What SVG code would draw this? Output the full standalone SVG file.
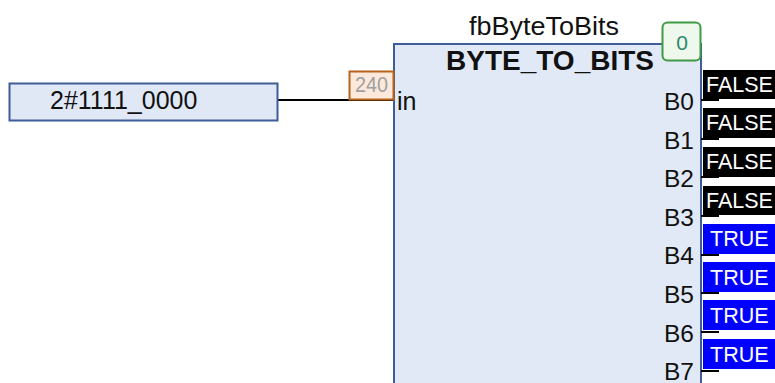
<svg xmlns="http://www.w3.org/2000/svg" width="775" height="383" viewBox="0 0 775 383">
<style>
text{font-family:"Liberation Sans",Arial,sans-serif;}
.lbl{font-size:25px;fill:#111;}
.pin{font-size:24.5px;fill:#111;text-anchor:end;}
.ob{fill:#000;}
.tb{fill:#0000ff;}
.ot{font-size:21.5px;fill:#fff;}
.pl{stroke:#000;stroke-width:2;}
</style>
<rect width="775" height="383" fill="#fff"/>
<g id="connectors">
<line x1="278" y1="100" x2="394" y2="100" stroke="#000" stroke-width="2"/>
</g>
<g id="input">
<rect x="9.5" y="83.5" width="268" height="37" fill="#e0e8f6" stroke="#3e5c96" stroke-width="2"/>
<text x="50" y="109" font-size="25" fill="#111">2#1111_0000</text>
</g>
<g id="block">
<rect x="394" y="44" width="307" height="345" fill="#e1e9f6" stroke="#3e5c96" stroke-width="2"/>
<text x="544" y="35" text-anchor="middle" class="lbl" textLength="150" lengthAdjust="spacingAndGlyphs">fbByteToBits</text>
<text x="550" y="70" text-anchor="middle" font-size="28" font-weight="bold" fill="#111">BYTE_TO_BITS</text>
<text x="397" y="110" class="lbl">in</text>
<text x="694" y="110" class="pin">B0</text>
<text x="694" y="148.6" class="pin">B1</text>
<text x="694" y="187.2" class="pin">B2</text>
<text x="694" y="225.8" class="pin">B3</text>
<text x="694" y="264.4" class="pin">B4</text>
<text x="694" y="303" class="pin">B5</text>
<text x="694" y="341.6" class="pin">B6</text>
<text x="694" y="379.5" class="pin">B7</text>
</g>
<g id="inval">
<rect x="349.5" y="71.5" width="44" height="28" fill="#fde9dc" stroke="#b8621b" stroke-width="2"/>
<text x="371.5" y="92" text-anchor="middle" font-size="22" fill="#a0a0a0" textLength="33" lengthAdjust="spacingAndGlyphs">240</text>
</g>
<g id="instval">
<rect x="662.5" y="22.5" width="38" height="38" rx="5" fill="#eef8ec" stroke="#3f9a45" stroke-width="2"/>
<text x="682" y="50" text-anchor="middle" font-size="21" fill="#2a8a6a">0</text>
</g>
<g id="outputs">
<line class="pl" x1="701" y1="100" x2="719" y2="100"/>
<line class="pl" x1="701" y1="139" x2="719" y2="139"/>
<line class="pl" x1="701" y1="177" x2="719" y2="177"/>
<line class="pl" x1="701" y1="216" x2="719" y2="216"/>
<line class="pl" x1="701" y1="255" x2="719" y2="255"/>
<line class="pl" x1="701" y1="293" x2="719" y2="293"/>
<line class="pl" x1="701" y1="332" x2="719" y2="332"/>
<line class="pl" x1="701" y1="371" x2="719" y2="371"/>
<g id="o0"><rect class="ob" x="703" y="70" width="72" height="29"/><text class="ot" x="706" y="92">FALSE</text></g>
<g id="o1"><rect class="ob" x="703" y="108" width="72" height="30"/><text class="ot" x="706" y="130">FALSE</text></g>
<g id="o2"><rect class="ob" x="703" y="147" width="72" height="30"/><text class="ot" x="706" y="169">FALSE</text></g>
<g id="o3"><rect class="ob" x="703" y="186" width="72" height="29"/><text class="ot" x="706" y="208">FALSE</text></g>
<g id="o4"><rect class="tb" x="703" y="224" width="72" height="30"/><text class="ot" x="710" y="246">TRUE</text></g>
<g id="o5"><rect class="tb" x="703" y="262" width="72" height="30"/><text class="ot" x="710" y="285">TRUE</text></g>
<g id="o6"><rect class="tb" x="703" y="300" width="72" height="30"/><text class="ot" x="710" y="323">TRUE</text></g>
<g id="o7"><rect class="tb" x="703" y="339" width="72" height="30"/><text class="ot" x="710" y="362">TRUE</text></g>
</g>
</svg>
